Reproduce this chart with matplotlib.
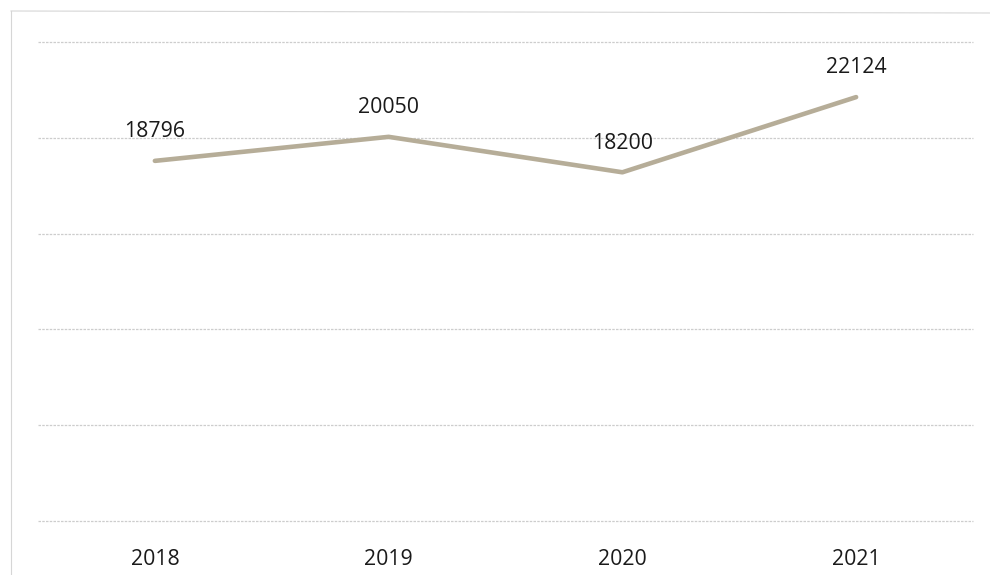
import matplotlib.pyplot as plt
import numpy as np

years = ["2018", "2019", "2020", "2021"]
values = [18796, 20050, 18200, 22124]
grid_ticks = [0, 5000, 10000, 15000, 20000, 25000]

plt.rcParams['font.family'] = ['Open Sans', 'DejaVu Sans']

fig = plt.figure(figsize=(9.9, 5.75), dpi=100)
ax = fig.add_axes([38/990, 1-521/575, (973-38)/990, (521-42)/575])

x = np.arange(len(years))
ax.plot(x, values, color='#b6ad98', lw=3.3, solid_capstyle='round', solid_joinstyle='round', zorder=3)

for xi, v in zip(x, values):
    ax.annotate(str(v), (xi, v), xytext=(0, 17), textcoords='offset points',
                ha='center', va='baseline', fontsize=15.3, color='#1a1a1a')

ax.set_xlim(-0.5, 3.5)
ax.set_ylim(0, 25000)
ax.set_yticks(grid_ticks)
ax.set_yticklabels([])
ax.set_xticks(x)
ax.set_xticklabels(years, fontsize=15.3, color='#1a1a1a')
ax.tick_params(length=0, pad=20)
ax.tick_params(axis='y', left=False)
ax.grid(axis='y', color='#cdcdcd', lw=0.9, ls=(0, (2, 1)))
for gl in ax.get_ygridlines():
    gl.set_clip_on(False)
ax.set_axisbelow(True)
for s in ax.spines.values():
    s.set_visible(False)

# faint outer border of the scanned chart
fig.add_artist(plt.Line2D([11/990, 11/990], [0, 1-11/575], transform=fig.transFigure, color='#d6d6d6', lw=0.8))
fig.add_artist(plt.Line2D([11/990, 1], [1-11/575, 1-13/575], transform=fig.transFigure, color='#d6d6d6', lw=0.8))

fig.savefig('out.png', dpi=100)
